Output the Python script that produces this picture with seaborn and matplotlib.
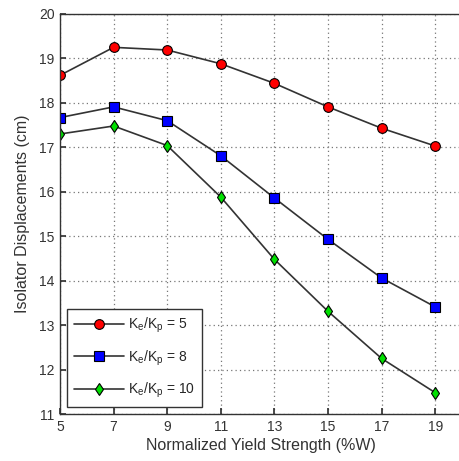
import pandas as pd
import matplotlib
matplotlib.use("Agg")
import matplotlib.pyplot as plt
import seaborn as sns

sns.set_theme(style="ticks")
plt.rcParams['font.family'] = ['Liberation Sans', 'DejaVu Sans']

# 데이터
yield_strength = [5, 7, 9, 11, 13, 15, 17, 19]
disp_k5 = [18.62, 19.25, 19.19, 18.88, 18.44, 17.91, 17.43, 17.03]
disp_k8 = [17.67, 17.91, 17.60, 16.81, 15.86, 14.93, 14.06, 13.41]
disp_k10 = [17.30, 17.48, 17.04, 15.88, 14.48, 13.31, 12.25, 11.48]
labels = ['K$_\\mathregular{e}$/K$_\\mathregular{p}$ = 5',
          'K$_\\mathregular{e}$/K$_\\mathregular{p}$ = 8',
          'K$_\\mathregular{e}$/K$_\\mathregular{p}$ = 10']

fig = plt.figure(figsize=(4.59, 4.61), dpi=100)
ax = fig.add_axes([60 / 459, 47 / 461, 402 / 459, 400 / 461])

styles = [('o', 'red', 7), ('s', 'blue', 7), ('d', '#00e000', 6)]
for vals, lab, (mk, col, ms) in zip([disp_k5, disp_k8, disp_k10], labels, styles):
    df = pd.DataFrame({'x': yield_strength, 'y': vals})
    sns.lineplot(data=df, x='x', y='y', ax=ax, label=lab, color='#333333',
                 linewidth=1.2, marker=mk, markersize=ms, markerfacecolor=col,
                 markeredgecolor='black', markeredgewidth=0.8)

ax.set_xlim(5, 20)
ax.set_ylim(11, 20)
ax.set_xticks(yield_strength)
ax.set_yticks(range(11, 21))
ax.grid(True, linestyle=(0, (1, 2.5)), color='#777777', linewidth=0.9)
for s in ax.spines.values():
    s.set_color('#333333')
    s.set_linewidth(1.0)
ax.tick_params(direction='in', length=4, labelsize=10, colors='#333333', pad=4)
ax.set_xlabel('Normalized Yield Strength (%W)', fontsize=11.5, color='#333333', labelpad=3)
ax.set_ylabel('Isolator Displacements (cm)', fontsize=11.5, color='#333333', labelpad=6)

leg = ax.legend(loc='lower left', fontsize=10, handlelength=3.6, handletextpad=0.3,
                borderaxespad=0.5, borderpad=0.5, fancybox=False, framealpha=1,
                edgecolor='#333333', labelspacing=0.95)
leg.get_frame().set_linewidth(1.0)

fig.savefig('out.png', dpi=100)
